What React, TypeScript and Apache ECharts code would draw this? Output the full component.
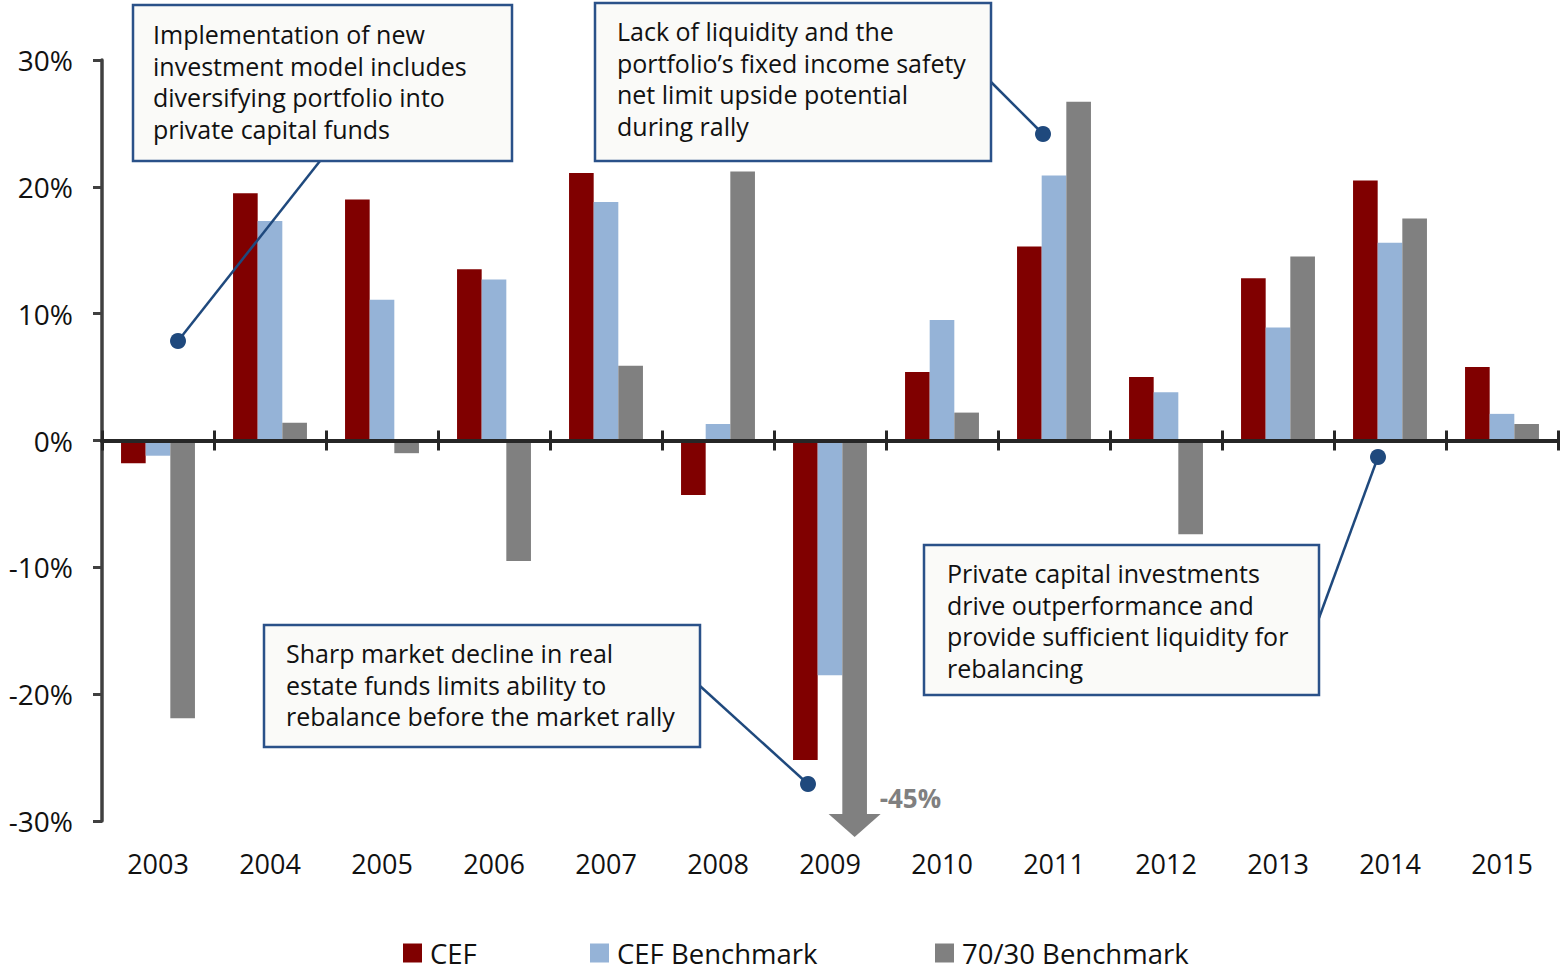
import React, { useEffect, useRef } from "react";
import * as echarts from "echarts";

const years = ["2003", "2004", "2005", "2006", "2007", "2008", "2009", "2010", "2011", "2012", "2013", "2014", "2015"];
const cef = [-1.8, 19.5, 19.0, 13.5, 21.1, -4.3, -25.2, 5.4, 15.3, 5.0, 12.8, 20.5, 5.8];
const cefBenchmark = [-1.2, 17.3, 11.1, 12.7, 18.8, 1.3, -18.5, 9.5, 20.9, 3.8, 8.9, 15.6, 2.1];
const benchmark7030 = [-21.9, 1.4, -1.0, -9.5, 5.9, 21.2, -45, 2.2, 26.7, -7.4, 14.5, 17.5, 1.3];
const seriesNames = ["CEF", "CEF Benchmark", "70/30 Benchmark"];
const Y_MIN = -30;
const Y_MAX = 30;
const Y_STEP = 10;

const note1 = ["Implementation of new", "investment model includes", "diversifying portfolio into", "private capital funds"];
const note2 = ["Lack of liquidity and the", "portfolio\u2019s fixed income safety", "net limit upside potential", "during rally"];
const note3 = ["Sharp market decline in real", "estate funds limits ability to", "rebalance before the market rally"];
const note4 = ["Private capital investments", "drive outperformance and", "provide sufficient liquidity for", "rebalancing"];

const RED = "#800000";
const BLUE = "#95B3D7";
const GREY = "#808080";
const NAVY = "#1F497D";
const BOX_BORDER = "#2A5189";
const FONT = "'Open Sans', 'Noto Sans', sans-serif";
const CAT_GAP = 0.34;
const LEGEND_LEFTS = [398, 585, 930];

function note(lines: string[], box: number[], textPos: number[], line: number[]) {
  const [bx, by, bw, bh] = box;
  return [
    {
      type: "rect",
      shape: { x: bx, y: by, width: bw, height: bh },
      style: { fill: "#FAFAF8", stroke: BOX_BORDER, lineWidth: 2.5 },
      z: 100,
    },
    {
      type: "text",
      x: textPos[0],
      y: textPos[1],
      style: {
        text: lines.join("\n"),
        fill: "#111111",
        font: `25px ${FONT}`,
        lineHeight: 31.7,
        textVerticalAlign: "top",
        verticalAlign: "top",
      },
      z: 101,
    },
    {
      type: "line",
      shape: { x1: line[0], y1: line[1], x2: line[2], y2: line[3] },
      style: { stroke: NAVY, lineWidth: 2.5 },
      z: 99,
    },
    {
      type: "circle",
      shape: { cx: line[2], cy: line[3], r: 8 },
      style: { fill: NAVY },
      z: 99,
    },
  ];
}

export default function App() {
  const ref = useRef<HTMLDivElement>(null);
  useEffect(() => {
    document.body.style.margin = "0";
    if (!ref.current) return;
    const chart = echarts.init(ref.current, undefined, { renderer: "svg" });
    const arrowData = benchmark7030
      .map((v, i) => [i, v])
      .filter((d) => d[1] < Y_MIN);

    const axisDark = "#262626";
    const option: any = {
      animation: false,
      textStyle: { fontFamily: FONT },
      grid: { left: 102, right: 6, top: 60, bottom: 151, containLabel: false },
      legend: seriesNames.map((name, i) => ({
        data: [name],
        left: LEGEND_LEFTS[i],
        top: 934,
        icon: "rect",
        itemWidth: 19,
        itemHeight: 19,
        textStyle: { fontSize: 27.5, lineHeight: 28, color: "#111111", fontFamily: FONT, padding: [0, 0, 0, 3] },
      })),
      xAxis: [
        {
          type: "category",
          data: years,
          position: "bottom",
          axisLine: { onZero: true, onZeroAxisIndex: 0, lineStyle: { color: axisDark, width: 4 } },
          axisTick: { show: true, length: 10, lineStyle: { color: axisDark, width: 3 } },
          axisLabel: { show: false },
          splitLine: { show: false },
          z: 10,
        },
        {
          type: "category",
          data: years,
          position: "bottom",
          axisLine: { show: true, onZero: true, onZeroAxisIndex: 1, lineStyle: { color: axisDark, width: 4 } },
          axisTick: { show: true, inside: true, length: 10, lineStyle: { color: axisDark, width: 3 } },
          axisLabel: { show: false },
          splitLine: { show: false },
          z: 10,
        },
        {
          type: "category",
          data: years,
          position: "bottom",
          axisLine: { show: false, onZero: false },
          axisTick: { show: false },
          axisLabel: { show: true, fontSize: 27, color: "#111111", margin: 29, fontFamily: FONT },
          splitLine: { show: false },
        },
      ],
      yAxis: [
        {
          type: "value",
          min: Y_MIN,
          max: Y_MAX,
          interval: Y_STEP,
          position: "left",
          axisLine: { show: true, onZero: false, lineStyle: { color: "#404040", width: 3.5 } },
          axisTick: { show: true, length: 9, lineStyle: { color: "#404040", width: 3 } },
          axisLabel: { fontSize: 28, color: "#111111", margin: 29, formatter: "{value}%", fontFamily: FONT },
          splitLine: { show: false },
        },
        {
          type: "value",
          min: Y_MIN,
          max: Y_MAX,
          interval: Y_STEP,
          position: "right",
          axisLine: { show: false, onZero: false },
          axisTick: { show: false },
          axisLabel: { show: false },
          splitLine: { show: false },
        },
      ],
      series: [
        {
          name: seriesNames[0],
          type: "bar",
          data: cef,
          itemStyle: { color: RED },
          barGap: "0%",
          barCategoryGap: `${CAT_GAP * 100}%`,
        },
        {
          name: seriesNames[1],
          type: "bar",
          data: cefBenchmark,
          itemStyle: { color: BLUE },
          barGap: "0%",
          barCategoryGap: `${CAT_GAP * 100}%`,
        },
        {
          name: seriesNames[2],
          type: "bar",
          data: benchmark7030,
          itemStyle: { color: GREY },
          barGap: "0%",
          barCategoryGap: `${CAT_GAP * 100}%`,
          clip: true,
        },
        {
          type: "custom",
          data: arrowData,
          silent: true,
          z: 5,
          renderItem: (params: any, api: any) => {
            const idx = api.value(0);
            const val = api.value(1);
            const base = api.coord([idx, Y_MIN]);
            const band = api.size([1, 0])[0];
            const barW = (band * (1 - CAT_GAP)) / 3;
            const cx = base[0] + barW;
            const top = base[1] - 7;
            return {
              type: "group",
              children: [
                {
                  type: "polygon",
                  shape: { points: [[cx - 26, top], [cx + 26, top], [cx, top + 23]] },
                  style: { fill: GREY },
                },
                {
                  type: "text",
                  x: cx + 25,
                  y: top - 16,
                  style: {
                    text: `${val}%`,
                    fill: GREY,
                    font: `bold 26px ${FONT}`,
                    textVerticalAlign: "middle",
                    verticalAlign: "middle",
                  },
                },
              ],
            };
          },
        },
      ],
      graphic: [
        ...note(note1, [133, 5, 379, 156], [153, 18], [320, 161, 178, 341]),
        ...note(note2, [595, 3, 396, 158], [617, 15], [991, 82, 1043, 134]),
        ...note(note3, [264, 625, 436, 122], [286, 637], [700, 686, 808, 784]),
        ...note(note4, [924, 545, 395, 150], [947, 557], [1319, 618, 1378, 457]),
      ],
    };
    chart.setOption(option);
    return () => chart.dispose();
  }, []);
  return <div ref={ref} style={{ width: 1564, height: 972 }} />;
}
